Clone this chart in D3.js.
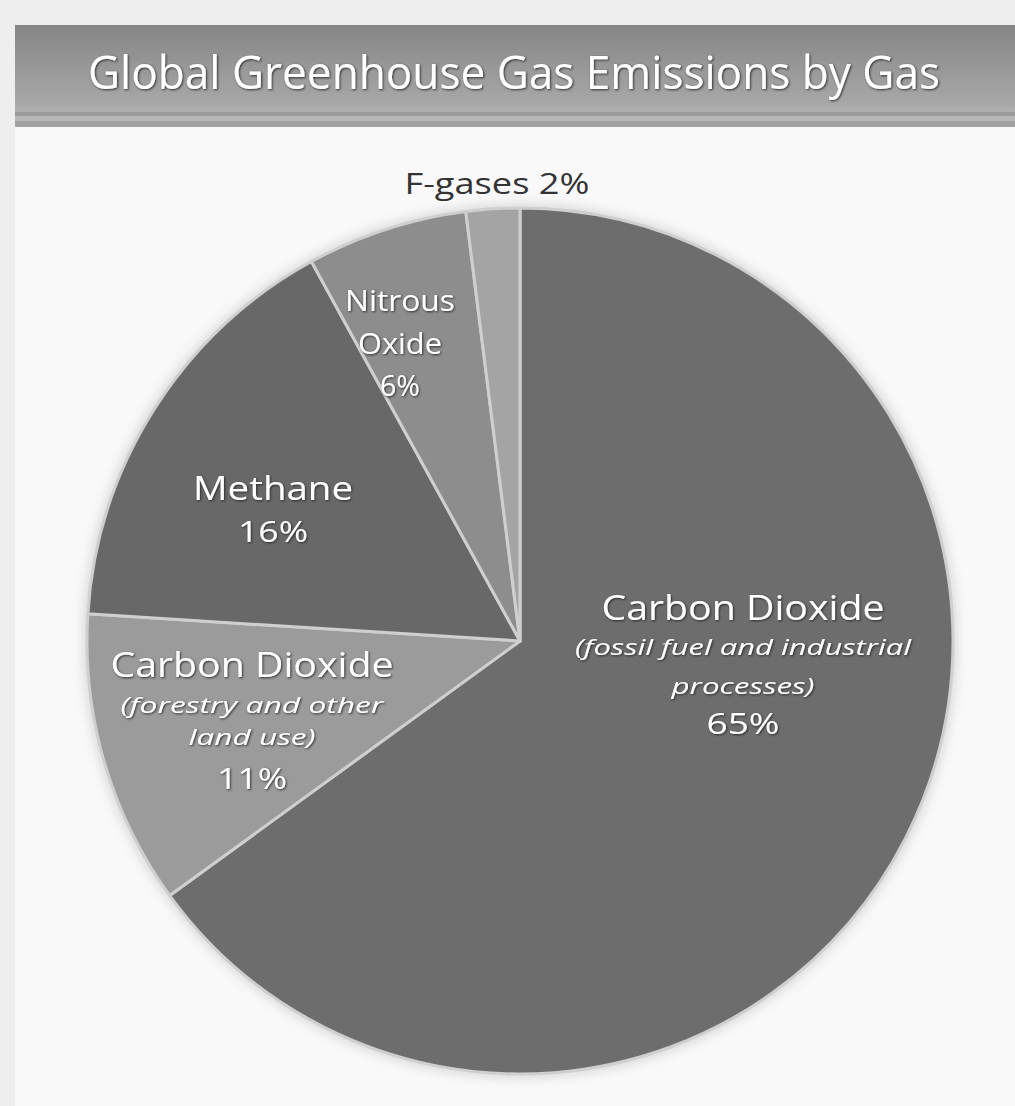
<!DOCTYPE html>
<html><head><meta charset="utf-8">
<script src="https://cdn.jsdelivr.net/npm/d3@7"></script>
<style>html,body{margin:0;padding:0;background:#eeeeee;}svg{display:block;}</style>
</head><body>
<script>
const title = "Global Greenhouse Gas Emissions by Gas";
const categories = ["CO2 fossil", "CO2 forestry", "Methane", "Nitrous Oxide", "F-gases"];
const values = [65, 11, 16, 6, 2];
const labelLines = [
  ["Carbon Dioxide", "(fossil fuel and industrial", "processes)", "65%"],
  ["Carbon Dioxide", "(forestry and other", "land use)", "11%"],
  ["Methane", "16%"],
  ["Nitrous", "Oxide", "6%"],
  ["F-gases 2%"]
];

const W = 1015, H = 1106;
const svg = d3.select("body").append("svg").attr("width", W).attr("height", H);
const defs = svg.append("defs");
const g1 = defs.append("linearGradient").attr("id","tg").attr("x1",0).attr("x2",0).attr("y1",0).attr("y2",1);
g1.append("stop").attr("offset","0%").attr("stop-color","#858585");
g1.append("stop").attr("offset","100%").attr("stop-color","#a9a9a9");
const f = defs.append("filter").attr("id","ts").attr("x","-20%").attr("y","-40%").attr("width","140%").attr("height","180%");
f.append("feDropShadow").attr("dx",1).attr("dy",1).attr("stdDeviation",1.2).attr("flood-color","#222").attr("flood-opacity",0.9);
const halo = defs.append("filter").attr("id","halo").attr("x","-10%").attr("y","-10%").attr("width","120%").attr("height","120%");
halo.append("feGaussianBlur").attr("stdDeviation",6);

// background panel
svg.append("rect").attr("x",0).attr("y",0).attr("width",W).attr("height",H).attr("fill","#eeeeee");
svg.append("rect").attr("x",15).attr("y",25).attr("width",W-15).attr("height",H-25).attr("fill","#f9f9f9");
svg.append("rect").attr("x",15).attr("y",25).attr("width",W-15).attr("height",82).attr("fill","url(#tg)");
const stripes = [["#aeaeae",107,5],["#9b9b9b",112,4],["#b8b8b8",116,5],["#a2a2a2",121,6]];
stripes.forEach(s=>svg.append("rect").attr("x",15).attr("y",s[1]).attr("width",W-15).attr("height",s[2]).attr("fill",s[0]));

svg.append("text").attr("x",514).attr("y",89).attr("text-anchor","middle")
  .attr("font-family","'Liberation Sans Narrow','Open Sans',sans-serif").attr("font-size",46)
  .attr("fill","#ffffff").attr("filter","url(#ts)")
  .attr("textLength",852).attr("lengthAdjust","spacingAndGlyphs").text(title);

// pie
const cx = 520, cy = 641, R = 433;
const colors = d3.scaleOrdinal().domain(categories).range(["#6d6d6d","#9b9b9b","#686868","#8d8d8d","#a4a4a4"]);
const pie = d3.pie().sort(null).value(d=>d).startAngle(0).endAngle(2*Math.PI);
const arcs = pie(values);
const arc = d3.arc().innerRadius(0).outerRadius(R);
const pg = svg.append("g").attr("transform",`translate(${cx},${cy})`);
pg.append("circle").attr("r",R+4).attr("fill","#d8d8d8").attr("filter","url(#halo)");
pg.selectAll("path.s").data(arcs).enter().append("path").attr("class","s")
  .attr("d",arc).attr("fill",(d,i)=>colors(categories[i]))
  .attr("stroke","#cfcfcf").attr("stroke-width",3).attr("stroke-linejoin","round");

// labels (positions in page coords, centers of each line)
const labelSpec = [
  {x:743, ys:[607,646,685,722], sizes:[34,22,22,30], widths:[283,336,143,73], italic:[0,1,1,0], fill:"#fff"},
  {x:252, ys:[664,704,736,777], sizes:[34,22,22,30], widths:[283,263,127,70], italic:[0,1,1,0], fill:"#fff"},
  {x:273, ys:[487,530], sizes:[32,30], widths:[160,70], italic:[0,0], fill:"#fff"},
  {x:400, ys:[299,342,384], sizes:[30,30,30], widths:[110,84,40], italic:[0,0,0], fill:"#fff"},
  {x:497, ys:[182], sizes:[30], widths:[185], italic:[0], fill:"#333"}
];
labelSpec.forEach((s,i)=>{
  labelLines[i].forEach((t,j)=>{
    svg.append("text").attr("x",s.x).attr("y",s.ys[j]).attr("text-anchor","middle")
      .attr("dominant-baseline","central")
      .attr("font-family","'Liberation Sans Narrow','Open Sans',sans-serif")
      .attr("font-size",s.sizes[j]).attr("font-style",s.italic[j]?"italic":"normal")
      .attr("fill",s.fill).attr("filter", s.fill==="#fff"?"url(#ts)":null)
      .attr("textLength",s.widths[j]).attr("lengthAdjust","spacingAndGlyphs").text(t);
  });
});
</script>
</body></html>
